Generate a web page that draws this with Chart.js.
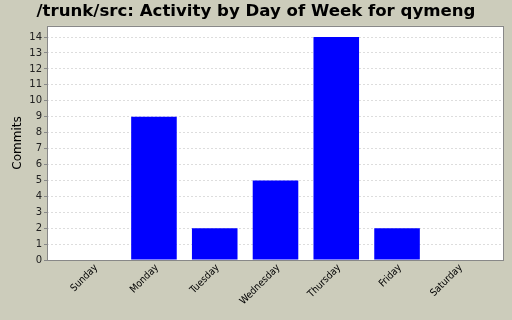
<!DOCTYPE html>
<html><head><meta charset="utf-8">
<script src="https://cdn.jsdelivr.net/npm/chart.js@4/dist/chart.umd.min.js"></script>
<style>html,body{margin:0;padding:0;background:#CCCCBB;}#wrap{width:512px;height:320px;}</style>
</head><body><div id="wrap"><canvas id="c" width="512" height="320"></canvas></div>
<script>
const days = ["Sunday","Monday","Tuesday","Wednesday","Thursday","Friday","Saturday"];
const commits = [0, 9, 2, 5, 14, 2, 0];
const yTicks = [0,1,2,3,4,5,6,7,8,9,10,11,12,13,14];
const titleText = "/trunk/src: Activity by Day of Week for qymeng";
const yTitle = "Commits";

const plotFrame = {
  id: 'plotFrame',
  beforeDraw(chart) {
    const a = chart.chartArea, ctx = chart.ctx;
    ctx.save(); ctx.fillStyle = '#ffffff';
    ctx.fillRect(a.left, a.top, a.right - a.left, a.bottom - a.top);
    ctx.restore();
  },
  afterDraw(chart) {
    const a = chart.chartArea, ctx = chart.ctx;
    ctx.save(); ctx.strokeStyle = '#888888'; ctx.lineWidth = 1;
    ctx.strokeRect(Math.round(a.left) + 0.5, Math.round(a.top) + 0.5, Math.round(a.right - a.left) - 1, Math.round(a.bottom - a.top));
    ctx.restore();
  }
};

new Chart(document.getElementById('c'), {
  type: 'bar',
  data: {
    datasets: [{
      data: days.map((d, i) => ({x: i, y: commits[i]})),
      backgroundColor: '#0000ff',
      borderWidth: 0,
      categoryPercentage: 1,
      barPercentage: 0.75
    }]
  },
  options: {
    responsive: false,
    animation: false,
    layout: {padding: {left: 8, right: 8, top: 0, bottom: 0}},
    plugins: {
      legend: {display: false},
      tooltip: {enabled: false},
      title: {
        display: true, text: titleText, color: '#000000',
        font: {family: 'DejaVu Sans', size: 16.6, weight: 'bold'},
        padding: {top: 2, bottom: 4}
      }
    },
    scales: {
      x: {
        type: 'linear', min: -0.76, max: 6.76, offset: false,
        afterBuildTicks: s => { s.ticks = days.map((d, i) => ({value: i})); },
        afterFit: s => { s.height = 60; },
        ticks: {
          autoSkip: false, maxRotation: 45, minRotation: 45, labelOffset: 3, padding: 2,
          color: '#000000', font: {family: 'DejaVu Sans Condensed', size: 10},
          callback: v => days[v] ?? ''
        },
        grid: {display: false, drawTicks: false},
        border: {display: false}
      },
      y: {
        min: 0, max: 14.7,
        afterBuildTicks: s => { s.ticks = yTicks.map(v => ({value: v})); },
        afterFit: s => { s.width = 39; },
        title: {display: true, text: yTitle, color: '#000000', font: {family: 'DejaVu Sans', size: 12}, padding: {top: 3, bottom: 0}},
        ticks: {color: '#222222', font: {family: 'DejaVu Sans', size: 10}, padding: 2},
        grid: {color: '#dddddd', tickBorderDash: [], tickColor: '#888888', tickLength: 3},
        border: {display: false, dash: [2, 2]}
      }
    }
  },
  plugins: [plotFrame]
});
</script></body></html>
